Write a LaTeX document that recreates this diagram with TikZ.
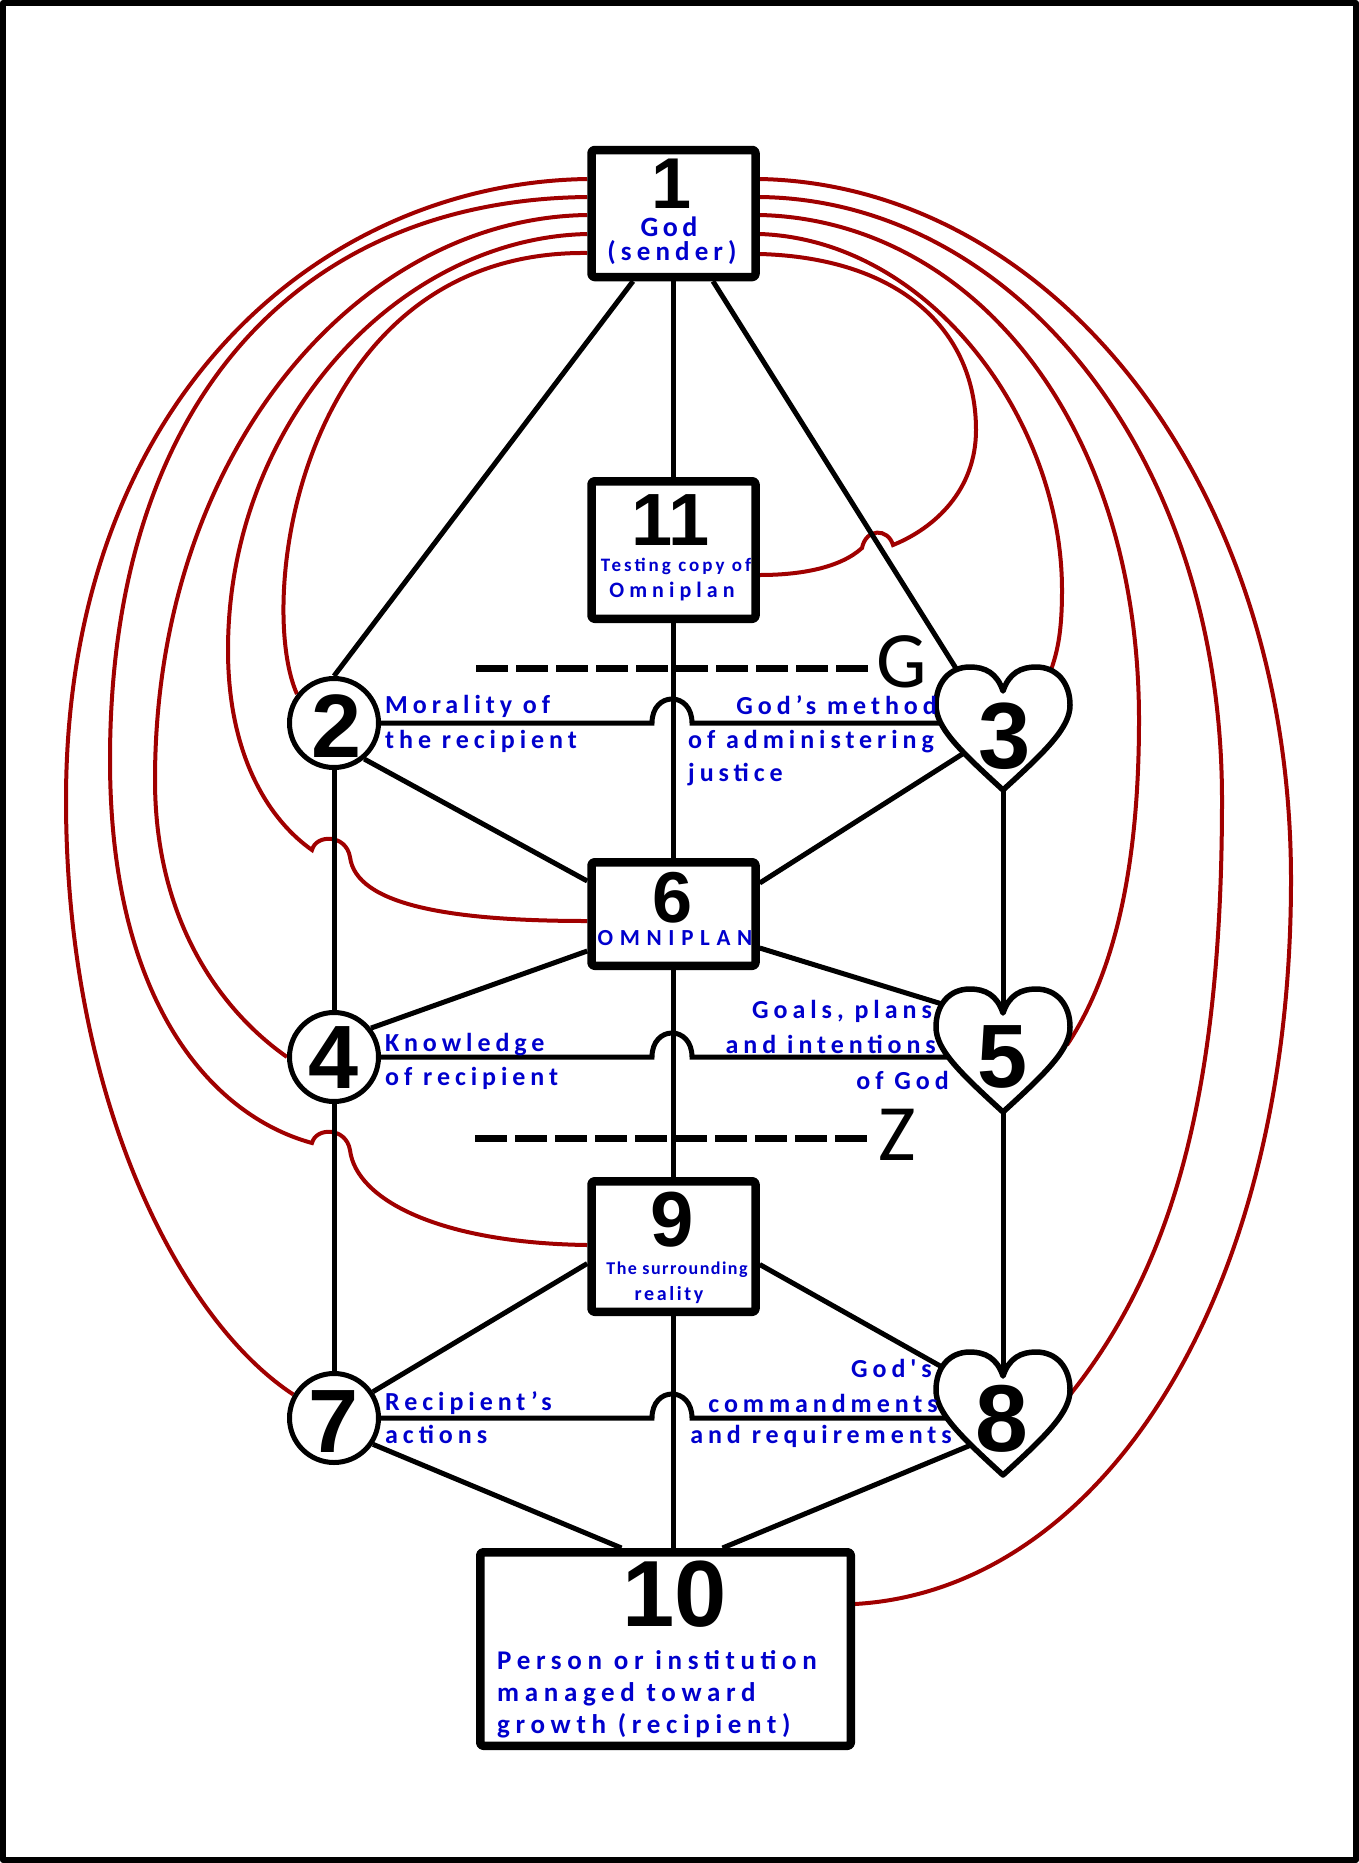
\documentclass[tikz,border=0pt]{standalone}
\usepackage{fontspec}
\setmainfont{Carlito}[Ligatures=TeXOff]
\newfontfamily\digitfont{Liberation Sans}
\definecolor{lblue}{RGB}{0,0,205}
\definecolor{lred}{RGB}{160,0,0}
\newcommand\lbl[3]{\fontsize{#1}{#1}\selectfont\bfseries\addfontfeatures{LetterSpace=#2}#3}
\newcommand\dig[2]{\fontsize{#1}{#1}\selectfont\digitfont\bfseries #2}
\pgfdeclarelayer{bg}
\pgfsetlayers{bg,main}
\begin{document}
\begin{tikzpicture}[x=1pt,y=-1pt,line join=round,
 box/.style={draw,line width=8.5pt,rounded corners=3pt,fill=white,inner sep=0pt,minimum width=164pt},
 circ/.style={circle,draw,line width=5pt,minimum size=89pt,inner sep=0pt,fill=white},
 heartline/.style={draw,line width=5.5pt,fill=white},
 conn/.style={line width=5pt},
 redc/.style={line width=4pt,draw=lred},
 dig/.style={inner sep=0pt},
 lab/.style={text=lblue,inner sep=0pt},
 dashl/.style={line width=7pt,dash pattern=on 32pt off 8pt},
 heart/.pic={
  \path[heartline] (0,24) .. controls (-6,6) and (-18,0) .. (-33,0) .. controls (-54,0) and (-67,16) .. (-67,38) .. controls (-67,60) and (-45,82) .. (0,123) .. controls (45,82) and (67,60) .. (67,38) .. controls (67,16) and (54,0) .. (33,0) .. controls (18,0) and (6,6) .. (0,24) -- cycle;
  \coordinate (-notch) at (0,24);
  \coordinate (-tip) at (0,123);
  \coordinate (-ul) at (-46,3);
  \coordinate (-ul2) at (-61,15);
  \coordinate (-w1) at (-63,56);
  \coordinate (-w2) at (-55,68);
  \coordinate (-w3) at (-56,66);
  \coordinate (-ll) at (-39,86);
  \coordinate (-ll2) at (-32,93);
  \coordinate (-r) at (66,44);
  \coordinate (-r2) at (64,56);
  \coordinate (-ur) at (48,3);
 }]
\useasboundingbox (0,0) rectangle (1359,1863);
\draw[line width=6pt] (3,3) rectangle (1356,1860);

% boxes
\node[box,minimum height=127pt] (n1) at (673.5,213.5) {};
\node[box,minimum height=137.5pt] (n11) at (673.5,550) {};
\node[box,minimum height=103.5pt] (n6) at (673.5,914) {};
\node[box,minimum height=130.5pt] (n9) at (673.5,1246.5) {};
\node[box,minimum width=370.5pt,minimum height=193.5pt] (n10) at (665.5,1649) {};
% circles
\node[circ] (n2) at (334,723) {};
\node[circ] (n4) at (334,1057) {};
\node[circ] (n7) at (334,1418) {};
% hearts
\pic (h3) at (1003,667) {heart};
\pic (h5) at (1003,989) {heart};
\pic (h8) at (1003,1352) {heart};

% digits
\node[dig] (d1) at (672,184) {\dig{72}{1}};
\node[dig] (d11) at (671,520) {\dig{74}{11}};
\node[dig] (d6) at (673,898) {\dig{72}{6}};
\node[dig] (d9) at (672,1220) {\dig{78}{9}};
\node[dig] (d10) at (675,1594) {\dig{94}{10}};
\node[dig] (d2) at (337,726) {\dig{90}{2}};
\node[dig] (d4) at (334,1058) {\dig{90}{4}};
\node[dig] (d7) at (334,1422) {\dig{90}{7}};
\node[dig] (d3) at (1005,736) {\dig{94}{3}};
\node[dig] (d5) at (1003,1057) {\dig{90}{5}};
\node[dig] (d8) at (1002,1419) {\dig{95}{8}};

% labels
\node[lab,anchor=base] (t1a) at (669,236) {\lbl{28}{16}{God}};
\node[lab,anchor=base] (t1b) at (672,260) {\lbl{27}{19}{(sender)}};
\node[lab,anchor=base] (t11a) at (676,571) {\lbl{19}{16}{Testing copy of}};
\node[lab,anchor=base] (t11b) at (672,597) {\lbl{22}{23}{Omniplan}};
\node[lab,anchor=base] (t6) at (675,945) {\lbl{23}{29}{OMNIPLAN}};
\node[lab,anchor=base] (t9a) at (677,1274) {\lbl{18}{8}{The surrounding}};
\node[lab,anchor=base] (t9b) at (669,1300) {\lbl{20}{13}{reality}};
\node[lab,anchor=base west] (t2a) at (385,713) {\lbl{26}{19}{Morality of}};
\node[lab,anchor=base west] (t2b) at (385,748) {\lbl{26}{19}{the recipient}};
\node[lab,anchor=base east] (t3a) at (937,714) {\lbl{26}{19}{God’s method}};
\node[lab,anchor=base west] (t3b) at (688,748) {\lbl{26}{19}{of administering}};
\node[lab,anchor=base west] (t3c) at (688,781) {\lbl{26}{19}{justice}};
\node[lab,anchor=base west] (t4a) at (385,1051) {\lbl{26}{19}{Knowledge}};
\node[lab,anchor=base west] (t4b) at (385,1085) {\lbl{26}{19}{of recipient}};
\node[lab,anchor=base east] (t5a) at (932,1018) {\lbl{26}{19}{Goals, plans}};
\node[lab,anchor=base east] (t5b) at (936,1053) {\lbl{26}{19}{and intentions}};
\node[lab,anchor=base east] (t5c) at (949,1089) {\lbl{26}{19}{of God}};
\node[lab,anchor=base west] (t7a) at (385,1410) {\lbl{26}{19}{Recipient’s}};
\node[lab,anchor=base west] (t7b) at (385,1443) {\lbl{26}{19}{actions}};
\node[lab,anchor=base east] (t8a) at (932,1377) {\lbl{26}{19}{God's}};
\node[lab,anchor=base east] (t8b) at (938,1412) {\lbl{26}{19}{commandments}};
\node[lab,anchor=base east] (t8c) at (952,1443) {\lbl{26}{19}{and requirements}};
\node[lab,anchor=base west] (t10a) at (497,1669) {\lbl{27}{21}{Person or institution}};
\node[lab,anchor=base west] (t10b) at (497,1701) {\lbl{27}{21}{managed toward}};
\node[lab,anchor=base west] (t10c) at (497,1733) {\lbl{27}{21}{growth (recipient)}};

% G and Z
\node[inner sep=0pt,anchor=base west] (gG) at (876,687) {\fontsize{80}{80}\selectfont G};
\node[inner sep=0pt,anchor=base west] (zZ) at (878,1160) {\fontsize{80}{80}\selectfont Z};
\coordinate (gs) at (476,668);
\coordinate (ge) at (868,668);
\coordinate (zs) at (475,1138);
\coordinate (ze) at (868,1138);
\coordinate (hop23) at (672,723);
\coordinate (hop45) at (672,1057);
\coordinate (hop78) at (672,1418);

\begin{pgfonlayer}{bg}
\fill[white] (0,0) rectangle (1359,1863);
% red curves, left
\draw[redc] ([yshift=34.5pt]n1.west) .. controls (320,183) and (66,400) .. (66,800) .. controls (66,1100) and (180,1320) .. (n7.150);
\draw[redc] ([yshift=16.5pt]n1.west) .. controls (300,200) and (110,400) .. (110,760) .. controls (110,1000) and (210,1115) .. (312,1143) .. controls (316,1127) and (346,1127) .. (350,1150) .. controls (356,1200) and (440,1243) .. ([yshift=1.5pt]n9.west);
\draw[redc] ([yshift=-1.5pt]n1.west) .. controls (360,218) and (155,450) .. (155,780) .. controls (155,920) and (220,1010) .. (n4.west);
\draw[redc] ([yshift=-20.5pt]n1.west) .. controls (400,238) and (228,420) .. (228,650) .. controls (228,760) and (272,822) .. (312,850) .. controls (316,834) and (346,834) .. (350,857) .. controls (356,905) and (450,921) .. ([yshift=-7pt]n6.west);
\draw[redc] ([yshift=-39.5pt]n1.west) .. controls (300,250) and (255,600) .. (n2.142);
% red curves, right
\draw[redc] ([yshift=34.5pt]n1.east) .. controls (1050,185) and (1291,480) .. (1291,880) .. controls (1291,1300) and (1100,1590) .. ([yshift=45pt]n10.east);
\draw[redc] ([yshift=16.5pt]n1.east) .. controls (1010,200) and (1222,450) .. (1222,800) .. controls (1222,1100) and (1170,1270) .. (h8-r);
\draw[redc] ([yshift=-1.5pt]n1.east) .. controls (970,220) and (1139,420) .. (1139,720) .. controls (1139,880) and (1110,980) .. (h5-r2);
\draw[redc] ([yshift=-20.5pt]n1.east) .. controls (930,240) and (1062,420) .. (1062,590) .. controls (1062,630) and (1058,650) .. (h3-ur);
\draw[redc] ([yshift=-40.5pt]n1.east) .. controls (900,258) and (976,330) .. (976,430) .. controls (976,490) and (935,528) .. (893,545) .. controls (888,528) and (866,528) .. (862,548) .. controls (840,568) and (800,575) .. ([yshift=-25pt]n11.east);

% black connectors
\draw[conn] ([xshift=-40.5pt]n1.south) -- (n2.north);
\draw[conn] (n1.south) -- (n11.north);
\draw[conn] ([xshift=39.5pt]n1.south) -- (h3-ul);
\draw[conn] (n11.south) -- (n6.north);
\draw[conn] (n2.-50) -- ([yshift=33pt]n6.west);
\draw[conn] (h3-ll) -- ([yshift=31pt]n6.east);
\draw[conn] (n2.south) -- (n4.north);
\draw[conn] (h3-tip) -- (h5-notch);
\draw[conn] (n6.south) -- (n9.north);
\draw[conn] (n4.38) -- ([yshift=-37pt]n6.west);
\draw[conn] ([yshift=-34pt]n6.east) -- (h5-ul2);
\draw[conn] (n4.south) -- (n7.north);
\draw[conn] (h5-tip) -- (h8-notch);
\draw[conn] ([yshift=-17pt]n9.west) -- (n7.34);
\draw[conn] ([yshift=-18pt]n9.east) -- (h8-ul2);
\draw[conn] (n9.south) -- (n9.south |- n10.north);
\draw[conn] (n7.-34) -- ([xshift=-44pt]n10.north);
\draw[conn] (h8-ll2) -- ([xshift=57pt]n10.north);
% horizontal connectors with hops
\draw[conn] (n2.east) -- ([xshift=-20pt]hop23) .. controls +(0,-32) and +(0,-32) .. ([xshift=20pt]hop23) -- (h3-w1);
\draw[conn] (n4.east) -- ([xshift=-20pt]hop45) .. controls +(0,-32) and +(0,-32) .. ([xshift=20pt]hop45) -- (h5-w2);
\draw[conn] (n7.east) -- ([xshift=-20pt]hop78) .. controls +(0,-32) and +(0,-32) .. ([xshift=20pt]hop78) -- (h8-w3);
% dashed lines
\draw[dashl] (gs) -- (ge);
\draw[dashl] (zs) -- (ze);
\end{pgfonlayer}
\end{tikzpicture}
\end{document}
